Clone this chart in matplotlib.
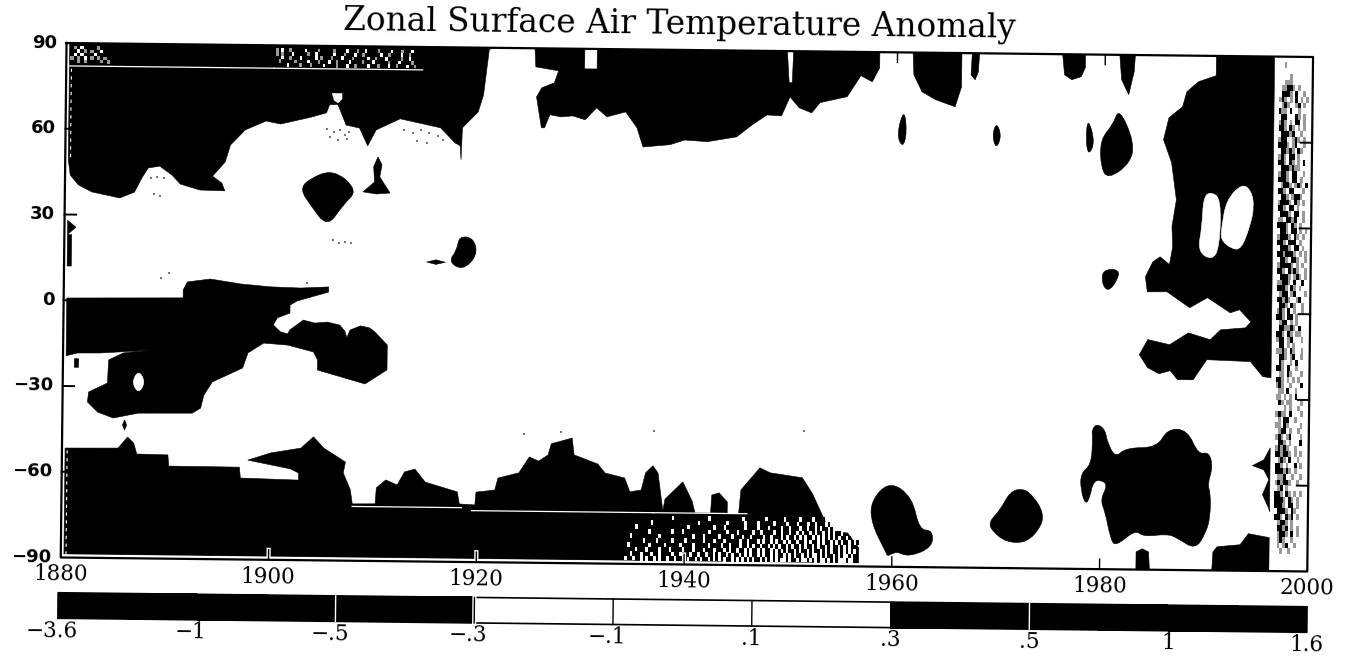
import numpy as np
import matplotlib
matplotlib.use("Agg")
import matplotlib.pyplot as plt
from matplotlib.colors import ListedColormap
from matplotlib.patches import PathPatch
from matplotlib.path import Path
from matplotlib.transforms import Affine2D

# ---------------------------
# Axis values
# ---------------------------
x_ticks = [1880, 1900, 1920, 1940, 1960, 1980, 2000]
y_ticks = [90, 60, 30, 0, -30, -60, -90]
y_labels = ["90", "60", "30", "0", "\u221230", "\u221260", "\u221290"]
cb_levels = [-3.6, -1, -.5, -.3, -.1, .1, .3, .5, 1, 1.6]
cb_labels = ["\u22123.6", "\u22121", "\u2212.5", "\u2212.3", "\u2212.1", ".1", ".3", ".5", "1", "1.6"]

# ---------------------------
# Outlines of the |anomaly| > .3 regions (year, latitude)
# ---------------------------
north_cap_years = [1880.3, 1880.5, 1881.3, 1882.6, 1885.3, 1886.7, 1887.4, 1888, 1889.1, 1890.3, 1891.1, 1893, 1895.4,
                   1895.1, 1894.2, 1895.4, 1895.9, 1897.3, 1899.3, 1900.7, 1903.6, 1905.1, 1905.4, 1906.2, 1907, 1908.3,
                   1909.1, 1909.9, 1912.2, 1916.1, 1917.5, 1918, 1918.1, 1918.2, 1919.7, 1920.2, 1920.7, 1921, 1880.3]
north_cap_lats = [49.1, 43.8, 40.4, 38, 36, 38.1, 43.1, 46.6, 47.3, 44.2, 41.1, 39.1, 38.9,
                  41.6, 44, 49, 55, 60.3, 63.5, 62.5, 65, 66.6, 69.5, 69.5, 62.4, 61.4,
                  55.2, 60.8, 64.8, 61.8, 56.6, 55.6, 50.7, 61.9, 67.5, 73.5, 89.3, 90, 90]

south_cap_years = [1880.3, 1885.4, 1886.3, 1886.9, 1887.2, 1890.2, 1890.3, 1897.1, 1897.2, 1902.8, 1902.8, 1902, 1897.9,
                   1900.1, 1903, 1904.2, 1905.2, 1907.3, 1907.1, 1907.8, 1908, 1910.2, 1910.3, 1911.2, 1912.3, 1913,
                   1914, 1915, 1918.1, 1918.3, 1919.8, 1919.9, 1921.7, 1922, 1924, 1925, 1925.9, 1926.8, 1927.1, 1929.1,
                   1929.3, 1931.6, 1932.3, 1934.2, 1934.7, 1935.8, 1936.2, 1936.9, 1937.4, 1937.9, 1938.1, 1939.8,
                   1940.7, 1941, 1942.5, 1942.6, 1943.3, 1944.1, 1944.1, 1945.2, 1945.4, 1947.2, 1948.2, 1951.3, 1952.3,
                   1953.7, 1953.9, 1955.7, 1956.8, 1956.8, 1880.3]
south_cap_lats = [-51.7, -51.5, -47.6, -49.7, -53.5, -53.7, -57.6, -57.7, -61.5, -62, -59.5, -58.1, -55.2,
                  -52.6, -50.8, -46.8, -50.7, -55.5, -59.3, -65.2, -70.1, -70, -64.4, -61.6, -63.3, -58.7,
                  -57.7, -62.2, -65.5, -69.7, -70, -65.5, -64.7, -60.5, -58.6, -53, -54.4, -52.2, -48.3, -46.2,
                  -52.1, -55.2, -58.3, -60, -64.8, -64.1, -58.1, -55.6, -58.1, -71.3, -67.2, -61.1,
                  -67.7, -71.9, -71.9, -65.6, -64.8, -68, -72, -72, -63.7, -55.9, -57.6, -59.2, -64.8,
                  -75.6, -78, -78.3, -83.5, -88.8, -88.8]

tropic_years = [1880.3, 1891.5, 1891.5, 1891.9, 1894.1, 1897, 1899.9, 1902.8, 1905.5, 1905.5, 1904.2, 1902.5, 1901.8,
                1901.8, 1900.6, 1900.2, 1900.9, 1901.6, 1901.8, 1903.1, 1904.2, 1905.4, 1906.6, 1907.1, 1907.3, 1907.6,
                1908.6, 1909.5, 1910, 1911.2, 1911.2, 1909.1, 1904.5, 1904.5, 1904.1, 1901.6, 1899.3, 1897.8, 1897.3,
                1894.4, 1893.6, 1893.3, 1892.5, 1887.3, 1884.9, 1883.4, 1882.4, 1882.5, 1884.3, 1884.4, 1885.8, 1888.6,
                1883.6, 1881.4, 1880.3]
tropic_lats = [.8, 1.3, 4.1, 6.9, 8, 6.4, 5.5, 5.2, 5.7, 3.9, 2.5, .7, -.8,
               -3.6, -5.3, -7.8, -10.2, -10.9, -9.5, -6, -7, -6.6, -7.6, -9.7, -12, -9.3,
               -7.8, -8.5, -9.9, -14.4, -23.1, -28.1, -23.4, -19.9, -17.1, -14.8, -14.2, -17.7, -23,
               -28, -32.6, -37.2, -39, -39.2, -41, -39, -35.5, -32, -28.8, -20.7, -18.2, -17.1,
               -18.3, -18.4, -19.4]

blob_1905_years = [1902.7, 1903.3, 1905.8, 1908.2, 1906.8, 1905.3, 1903.6]
blob_1905_lats = [39.5, 43, 47, 39.7, 34.5, 26.5, 34.5]
blob_1910_years = [1910.1, 1910.5, 1910.3, 1911.3, 1910, 1908.7, 1909.8, 1909.7]
blob_1910_lats = [51.4, 48.6, 44.4, 38.8, 38.4, 39.1, 42.6, 47.9]
blob_1918_years = [1918, 1919.4, 1919.8, 1918.4, 1917, 1917.8]
blob_1918_lats = [24, 23.4, 17.5, 12, 15, 19.1]
dash_1915_years = [1914.9, 1915.8, 1916.7, 1915.8]
dash_1915_lats = [14.8, 15.6, 14.8, 14]
dot_1886_years = [1885.8, 1886, 1886.2, 1886]
dot_1886_lats = [-43.4, -41.6, -43.4, -45.2]
dot_1881_years = [1881.1, 1881.5, 1881.5, 1881.1]
dot_1881_lats = [-20.4, -20.4, -23.4, -23.4]
edge_1880_years = [1880.3, 1881.1, 1880.3]
edge_1880_lats = [28, 25.6, 23]
edge_strip_years = [1880.3, 1880.7, 1880.7, 1880.3]
edge_strip_lats = [23, 23, 12, 12]

north_mid_years = [1925.1, 1925.2, 1927.4, 1927, 1925.8, 1925.3, 1925.8, 1926.1, 1926.6, 1927.7, 1928.8, 1930, 1931.1, 1932.1,
                   1933.9, 1935, 1935.6, 1938.2, 1939.6, 1941.8, 1944.6, 1946.1, 1947.5, 1948.9, 1949.7, 1950.6, 1951.8,
                   1952.6, 1955.2, 1956.5, 1957.6, 1958.3, 1958.3, 1950, 1949.9, 1949.6, 1949.4, 1931.1, 1931.1, 1929.9,
                   1929.9]
north_mid_lats = [90, 83.5, 82.2, 78, 76.2, 73, 62.2, 62.2, 66.8, 66.1, 66.5, 65.2, 69.4, 66.3,
                  68.1, 62.6, 55.9, 56.8, 58.5, 58, 59.8, 64.1, 67.6, 67.3, 74, 70.2, 68.5,
                  72.1, 74.3, 81.7, 79.6, 84.5, 90, 90, 79, 79, 90, 90, 83, 83,
                  90]
spindle_1960_years = [1960.7, 1961, 1960.6, 1960]
spindle_1960_lats = [70.5, 61.9, 56.5, 61.2]
north_1963_years = [1961.5, 1961.6, 1962.4, 1963.7, 1965.6, 1966.2, 1966.2]
north_1963_lats = [90, 82.2, 76.3, 73.6, 71.2, 78.2, 90]
north_1967_years = [1967.2, 1967.9, 1967.8, 1967.5, 1967.1]
north_1967_lats = [90, 90, 83.5, 80.7, 82.4]
spindle_1970_years = [1969.6, 1970.1, 1969.6, 1969.2]
spindle_1970_lats = [66, 61.2, 56.5, 61.3]
north_1976_years = [1975.9, 1976.1, 1976.8, 1977.7, 1978.1, 1978.1]
north_1976_lats = [90, 82.8, 81.1, 82.2, 85.4, 90]
north_1981_years = [1981.4, 1982.9, 1982.8, 1982.3, 1981.6]
north_1981_lats = [90, 90, 84.2, 76.1, 81.3]
spindle_1978_years = [1978.4, 1979.1, 1978.5, 1978.2]
spindle_1978_lats = [68, 59.5, 54.5, 60.2]
blob_1981_years = [1981.4, 1982.9, 1982.5, 1980.4, 1979.7, 1979.6, 1980.8]
blob_1981_lats = [71.5, 59.3, 52, 46.5, 50.5, 60.2, 65.5]
blob_eq_1980_years = [1980, 1981.6, 1981.4, 1980.5, 1979.9]
blob_eq_1980_lats = [14.8, 15, 11, 7, 10.2]

recent_years = [1990.7, 1990.7, 1989, 1987.9, 1987.5, 1986.2, 1985.7, 1986.5, 1987, 1986.6, 1986.7, 1986.4, 1985.5, 1984.8,
                1984.1, 1984.3, 1986.2, 1988.4, 1990.1, 1992.3, 1993.2, 1994.3, 1993.8, 1991.4, 1990.4, 1988.3, 1986.5,
                1984.4, 1983.6, 1984.4, 1985.5, 1986.6, 1987.3, 1988.8, 1990.1, 1994.3, 1995.5, 1996.3, 1996.3]
recent_lats = [90, 83.1, 80.9, 77.4, 72.1, 68.2, 60.5, 52.5, 39.5, 30.1, 23.1, 16.8, 19.5, 17.7,
               12.5, 7.2, 7.3, 1.8, 5.4, .2, 1.3, -2.9, -5, -5.8, -9.3, -7, -11.2,
               -9.5, -14.8, -19.3, -21.4, -20.3, -23.4, -23.4, -16.3, -16.8, -22, -22.4, 90]

south_1980_years = [1979.6, 1980.4, 1980.6, 1981.4, 1982.4, 1985.4, 1986.4, 1988.3, 1989.4, 1990.4, 1990.8, 1990.3, 1990.6,
                    1990.6, 1990.2, 1989.2, 1987.5, 1986.5, 1984.2, 1983.4, 1981.5, 1981, 1980.5, 1980, 1980.7, 1980,
                    1979.3, 1979, 1978.6, 1978.1, 1978.1, 1979.1, 1979.2, 1979.1]
south_1980_lats = [-39.1, -41.2, -45.4, -51, -47.4, -47.3, -40.6, -40.9, -49.6, -48.5, -53.7, -60.1, -62.8,
                   -71.2, -76.9, -82.8, -78.9, -77.4, -78.5, -76.1, -82.1, -79, -70.2, -65.7, -60.5, -58.7,
                   -59.5, -64.7, -67.6, -62.3, -56.4, -53.5, -43.7, -41.3]
south_1960_years = [1959.7, 1961.9, 1962.6, 1963.9, 1963.9, 1961.6, 1960.4, 1959.6, 1959.4, 1958, 1957.9]
south_1960_lats = [-60, -65.5, -77, -77, -83, -86.5, -84.5, -86.5, -84.8, -75, -67]
south_1972_years = [1969.3, 1970.4, 1971.3, 1972.6, 1973.6, 1974.5, 1974.4, 1973, 1971, 1969.6]
south_1972_lats = [-73.9, -69.6, -63.2, -62, -65, -70.2, -75, -81, -81, -77]
bottom_1984_years = [1983.5, 1984.1, 1984.7, 1984.8, 1983.5]
bottom_1984_lats = [-83.8, -82.7, -83.8, -90, -90]
bottom_1991_years = [1990.9, 1991.3, 1993.5, 1994.3, 1996.3, 1996.3, 1990.8]
bottom_1991_lats = [-83.5, -81.7, -80.9, -77, -78.3, -90, -90]
south_1996_years = [1996.3, 1995.7, 1994.6, 1995.7, 1996.2, 1995.6, 1996.2, 1996.3]
south_1996_lats = [-46.9, -51.1, -53.2, -54.6, -58, -63.3, -67.9, -69.3]

sharp_regions = [
    (north_cap_years, north_cap_lats), (south_cap_years, south_cap_lats), (tropic_years, tropic_lats),
    (blob_1910_years, blob_1910_lats), (dash_1915_years, dash_1915_lats), (dot_1886_years, dot_1886_lats),
    (dot_1881_years, dot_1881_lats), (edge_1880_years, edge_1880_lats), (edge_strip_years, edge_strip_lats),
    (north_mid_years, north_mid_lats), (north_1963_years, north_1963_lats), (north_1967_years, north_1967_lats),
    (north_1976_years, north_1976_lats), (north_1981_years, north_1981_lats), (bottom_1984_years, bottom_1984_lats),
    (bottom_1991_years, bottom_1991_lats), (south_1996_years, south_1996_lats), (recent_years, recent_lats),
]
round_regions = [
    (blob_1905_years, blob_1905_lats), (blob_1918_years, blob_1918_lats), (spindle_1960_years, spindle_1960_lats),
    (spindle_1970_years, spindle_1970_lats), (spindle_1978_years, spindle_1978_lats), (blob_1981_years, blob_1981_lats),
    (blob_eq_1980_years, blob_eq_1980_lats), (south_1980_years, south_1980_lats), (south_1960_years, south_1960_lats),
    (south_1972_years, south_1972_lats),
]

# White holes inside the black regions
hole_1887_years = [1887.3, 1887.8, 1887.8, 1887.3, 1886.8, 1886.8]
hole_1887_lats = [-24.6, -27, -29.6, -32, -29.6, -27]
hole_1990_years = [1989.6, 1990.3, 1991.3, 1991.2, 1990.5, 1989.1, 1989.5]
hole_1990_lats = [40.5, 42.5, 40, 23, 18.5, 21.5, 30.2]
hole_1993_years = [1991.8, 1993.3, 1994.2, 1994.5, 1994.1, 1993.3, 1992.4, 1991.3, 1991.4]
hole_1993_lats = [39.5, 45.5, 43, 37.4, 30.4, 22.5, 22.5, 25.7, 30.3]
hole_1906_years = [1905.6, 1906.6, 1906.6, 1906.2, 1905.8]
hole_1906_lats = [73.5, 73.5, 71.5, 70, 71]
white_holes = [(hole_1887_years, hole_1887_lats), (hole_1990_years, hole_1990_lats),
               (hole_1993_years, hole_1993_lats)]

# Thin white gaps between the zonal data bands: latitude, first year, last year
gap_lats = [82, 82, -71, -72, -72, -78]
gap_starts = [1880.3, 1900, 1908, 1919.5, 1937, 1946]
gap_ends = [1900, 1914.3, 1918.5, 1937, 1946, 1954]

# Stray grey specks in the white area
speck_years = [1888.3, 1888.9, 1889.5, 1889.2, 1888.6, 1905.2, 1905.8, 1906.4, 1906.9, 1907.3, 1905.5, 1906.2, 1907.1,
               1912.6, 1913.4, 1914.2, 1915, 1915.9, 1913.8, 1914.8, 1916.3, 1905.9, 1906.4, 1907, 1907.6, 1890.1,
               1889.3, 1903.4, 1924.5, 1928, 1937, 1951.4]
speck_lats = [43, 43.5, 43, 37, 37.5, 61, 60, 60.5, 59, 60, 58, 57, 57.5,
              61, 60, 61, 60, 59, 57, 56.5, 57.5, 22, 21, 21.5, 21, 10,
              8, 7, -45, -44, -43.5, -43]

# ---------------------------
# Speckled cells: '#' black, '+' grey, '.' white, ' ' nothing
# ---------------------------
right_column = [
    "            ", "   +        ", "            ", "     +      ", "   +++      ", "  ++##+ +    ", "  ###+ #  + ",
    " +#+ + # + +", "  +#+  +# + ", " #++ #  +   ", "  ##   #+ + ", " +#+ + ## + ", " ##+ #+ + + ", "  ###+#  +  ",
    " +##  +#+ + ", " ###+ +#  + ", "  ##+#+ #+  ", " +#+ ## +   ", " ##+ #+ + # ", "  ###+#++   ", " +##+ ##  + ",
    " ###+ ## +  ", "  +##+ +#+ #", " ##+ ##   + ", "  ##+ +##+  ", " +###+ #+ + ", " ##+ ## +   ", "  ###+ ## + ",
    " ++ ##+#  + ", " ###+ #+ +  ", "  ##+ ## + +", " +###+ #+ + ", " ##+ ### +  ", "  ###+ ## + ", " ##+###+ + +",
    "  ##+ ##+  +", " +####+ + + ", " ##+ #+#+  +", "  ###+ +#+ +", " ++##+ #  # ", " ###+ #+ +  ", "  +## +#   +",
    " ##+#+  +#  ", "  ##+ #+  + ", " +#+ # +  + ", " ##+ ## +   ", "  +## + +   ", "  ##++#+ #  ", " ##+ #+ ++  ",
    " +## +#   + ", "  ## + +    ", " ++#+ #+  + ", "  ##+ +#  + ", "  #+  + #   ", " ##+ #  +   ", "  ++ #+   + ",
    " ##+ + + +  ", " +#+  +   # ", "  ++ #  +   ", " ++ + + #   ", "  #+ ++   + ", "    + +  +  ", " +#++ #   + ",
    "  + ##  +   ", " ++ #+    + ", "  +## +  +  ", " +#+ +#   + ", "  ##+ +   # ", " +#+#+  +   ", " ##+##+ + + ",
    "  +#+ #  +  ", " ##+ +  # + ", " ###+#+ +   ", "  ++#  +  + ", " +#+##+  +  ", "  +# +      ", " ##+ #+ + + ",
    " ###+ #+ +  ", " ###+ ## +  ", "  ###+ #+   ", " ##+ #+# +  ", "  +##+ +    ", "  ##+# + +  ", "  +##+ # +  ",
    "  +#+  +    ", "  + +#  +   ", "   +  +     ", "            ", "            ", "            ",
]
north_strip_left = ["#+#.####+###", "##.#+#+##.##", "#.#.###.####", "+#+#.#+#+#+#", "##+#+####+#+"]
north_strip_right = [
    "+#.##+#####.####+#####+####.###+##.####+####.###+###.###",
    "+#+###.#####+##.######.###+###.##+######.##+####.##+####",
    "##.##+###.#####.#+###+###.###+#####.##+###.#####+##.####",
    "#+#####+####.###+###.##+####.####+###.#####+###.####+###",
    "####.####+###+####.####+###.##+####.###+###.##+###.##+##",
]
south_band = [
    "###################.#############.############.########.######.#####.####.####",
    "###########.#################.##########.######.####.#####.####.###.###.##.###.#",
    "#####.###################.#########.###.#######.####.###.####.##.###.##.##.#.##.#",
    "##########.########.###.#########.######.###.#####.##.####.##.##.##.#.##.#.##.#.#.##.",
    "###.##########.############.###.#####.####.###.##.####.##.###.#.##.#.#.##.#.#.#.#.#.##.#",
    "########.####.#####.####.######.###.###.#####.##.###.#.##.#.##.#.##.##.#.##.#.##.#.#.##.#.#",
    "##.#######.#####.#####.####.#####.####.##.###.##.#.##.##.#.#.##.#.##.#.##.#.##.#.##.#.#.##",
    "#####.###.####.###.####.###.###.###.###.#.##.##.#.##.#.##.#.#.#.##.#.##.#.##.#.#.##.#.#.#.",
    "###.###.###.##.####.##.###.##.##.##.#.##.#.##.#.#.##.#.##.#.##.#.#.##.#.#..#.#.##.#.#..#.#",
    "#.##.##.#.##.#.##.##.##.#.##.#.##.#.#.#.##.#.#.#.#.##.#.#.#.#..#.##.#..#.#.#..#.#.#...#..#",
]

# ---------------------------
# Figure set up, the whole scanned page sits slightly rotated
# ---------------------------
W, H = 1346, 656
tilt_deg = -0.644
fig = plt.figure(figsize=(W / 100, H / 100), dpi=100, facecolor="white")
tilt = Affine2D().rotate_deg_around(687, H - 307.25, tilt_deg)

ax = fig.add_axes([63.6 / W, 91.5 / H, 1246.6 / W, 514.5 / H])
ax.set_xlim(1880, 2000)
ax.set_ylim(-90, 90)
ax.axis("off")
tr = ax.transData + tilt


def add_round(years, lats, color, zorder):
    # closed quadratic curve through the mid points, so contours read as smooth lobes
    pts = np.column_stack([years, lats])
    mids = (pts + np.roll(pts, -1, axis=0)) / 2
    verts = [mids[-1]]
    codes = [Path.MOVETO]
    for p, m in zip(pts, mids):
        verts += [p, m]
        codes += [Path.CURVE3, Path.CURVE3]
    patch = PathPatch(Path(verts, codes), facecolor=color, edgecolor=color, lw=0.4, transform=tr,
                      clip_on=False, zorder=zorder)
    ax.add_patch(patch)


for years, lats in sharp_regions:
    ax.fill(years, lats, color="black", lw=0.4, transform=tr, clip_on=False, zorder=2)
for years, lats in round_regions:
    add_round(years, lats, "black", 2)
for years, lats in white_holes:
    add_round(years, lats, "white", 3)
ax.fill(hole_1906_years, hole_1906_lats, color="white", lw=0, transform=tr, clip_on=False, zorder=3)
for lat, start, end in zip(gap_lats, gap_starts, gap_ends):
    ax.plot([start, end], [lat, lat], color="white", lw=0.9, transform=tr, clip_on=False, zorder=3)
ax.scatter(speck_years, speck_lats, s=1.2, marker="s", color="#777777", lw=0, transform=tr, clip_on=False, zorder=3)


def stipple(rows, x0, x1, y0, y1):
    levels = {"#": 0.0, "+": 0.6, ".": 1.0}
    n_cols = max(len(r) for r in rows)
    z = np.full((len(rows), n_cols), np.nan)
    for i, row in enumerate(rows):
        for j, ch in enumerate(row):
            if ch in levels:
                z[i, j] = levels[ch]
    xs = np.linspace(x0, x1, n_cols + 1)
    ys = np.linspace(y1, y0, len(rows) + 1)
    mesh = ax.pcolormesh(xs, ys, np.ma.masked_invalid(z), cmap="gray", vmin=0, vmax=1,
                         transform=tr, antialiased=False, zorder=4)
    mesh.set_clip_on(False)


stipple(right_column, 1996.5, 1999.9, -90, 90)
stipple(north_strip_left, 1880.4, 1884.2, 83, 89)
stipple(north_strip_right, 1900.2, 1914.2, 82.5, 89)
stipple(south_band, 1934, 1956.8, -88.8, -73)

# white specks along the left and bottom edge of the data
ax.plot([1880.5, 1880.5], [-89, -52], color="white", lw=0.8, ls=(0, (3, 4)), transform=tr, clip_on=False, zorder=4)
ax.plot([1880.5, 1880.5], [50, 81], color="white", lw=0.8, ls=(0, (3, 4)), transform=tr, clip_on=False, zorder=4)
ax.plot([1880.3, 1957], [-89.2, -89.2], color="white", lw=1.2, transform=tr, clip_on=False, zorder=4)

# ---------------------------
# Frame, ticks and labels drawn in the same rotated frame
# ---------------------------
ax.plot([1880, 2000, 2000, 1880, 1880], [90, 90, -90, -90, 90], color="black", lw=1.6,
        transform=tr, clip_on=False, zorder=6)
for year in x_ticks[1:-1]:
    ax.plot([year, year], [-90, -86.5], color="white", lw=3, transform=tr, clip_on=False, zorder=5)
    ax.plot([year, year], [-90, -86.5], color="black", lw=1, transform=tr, clip_on=False, zorder=5)
    ax.plot([year, year], [90, 86.5], color="black", lw=1, transform=tr, clip_on=False, zorder=5)
for lat in y_ticks[1:-1]:
    for x0, x1 in [(1880, 1881.1), (2000, 1998.9)]:
        ax.plot([x0, x1], [lat, lat], color="black", lw=1.4, transform=tr, clip_on=False, zorder=5)

for year in x_ticks:
    ax.text(year, -96, str(year), family="DejaVu Serif", fontsize=15.5, ha="center", va="center",
            rotation=tilt_deg, rotation_mode="anchor", transform=tr)
for lat, label in zip(y_ticks, y_labels):
    ax.text(1879.1, lat, label, family="DejaVu Sans", fontweight="bold", fontsize=13, ha="right", va="center",
            rotation=tilt_deg, rotation_mode="anchor", transform=tr)
ax.text(1939, 98.8, "Zonal Surface Air Temperature Anomaly", family="DejaVu Serif", fontsize=23.6,
        ha="center", va="center", rotation=tilt_deg, rotation_mode="anchor", transform=tr)

# ---------------------------
# Colour bar, equal width cells
# ---------------------------
ax_cb = fig.add_axes([61.4 / W, 30.7 / H, 1249 / W, 25.5 / H])
ax_cb.set_xlim(0, len(cb_levels) - 1)
ax_cb.set_ylim(0, 1)
ax_cb.axis("off")
tr_cb = ax_cb.transData + tilt

cell_black = [[1 if min(abs(lo), abs(hi)) >= .3 else 0 for lo, hi in zip(cb_levels[:-1], cb_levels[1:])]]
bar = ax_cb.pcolormesh(np.arange(len(cb_levels)), [0, 1], cell_black, cmap=ListedColormap(["white", "black"]),
                       vmin=0, vmax=1, transform=tr_cb, antialiased=False)
bar.set_clip_on(False)
ax_cb.plot([0, 9, 9, 0, 0], [0, 0, 1, 1, 0], color="black", lw=1.2, transform=tr_cb, clip_on=False)

for i, level in enumerate(cb_levels):
    if level in (-.5, -.3, .5):
        ax_cb.plot([i, i], [0, 1], color="white", lw=3 if level == -.3 else 1, transform=tr_cb, clip_on=False)
    if level in (-.3, -.1, .1):
        ax_cb.plot([i, i], [0, 1], color="black", lw=1, transform=tr_cb, clip_on=False)
    shift = -0.04 if level < 0 else 0
    ax_cb.text(i + shift, -0.5, cb_labels[i], family="DejaVu Serif", fontsize=15.5, ha="center", va="center",
               rotation=tilt_deg, rotation_mode="anchor", transform=tr_cb)

fig.savefig("out.png", dpi=100)
